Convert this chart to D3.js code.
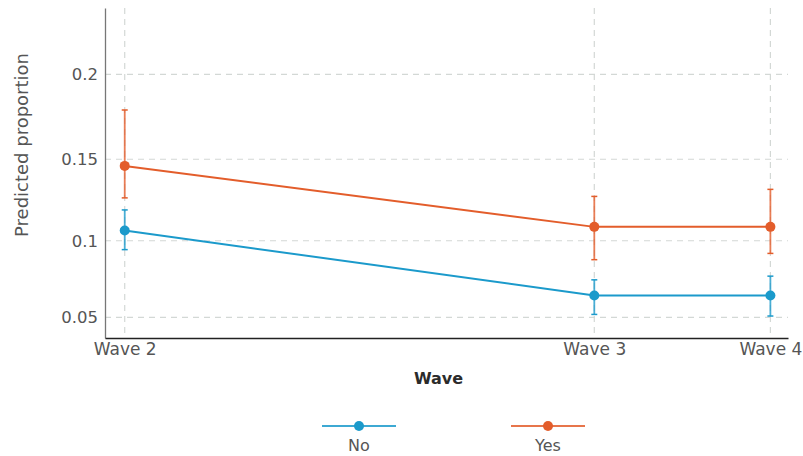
<!DOCTYPE html>
<html>
<head>
<meta charset="utf-8">
<script src="https://cdn.jsdelivr.net/npm/d3@7"></script>
<style>
  html, body { margin: 0; padding: 0; background: #ffffff; }
  svg { display: block; font-family: "DejaVu Sans", "Noto Sans", sans-serif; }
</style>
</head>
<body>
<svg id="chart" width="803" height="456"></svg>
<script>
// Survey waves and their time position (months from Wave 2)
const waves = ["Wave 2", "Wave 3", "Wave 4"];
const waveTime = [0, 8, 11];

// Group labels
const groups = ["No", "Yes"];

// Predicted proportions with confidence limits, per group
const noEst   = [0.1064, 0.0647, 0.0647];
const noLow   = [0.0944, 0.0520, 0.0509];
const noHigh  = [0.1192, 0.0750, 0.0774];
const yesEst  = [0.1460, 0.1087, 0.1087];
const yesLow  = [0.1266, 0.0880, 0.0920];
const yesHigh = [0.1792, 0.1275, 0.1318];

// Y axis ticks
const yTicks = [0.05, 0.1, 0.15, 0.2];
const yTickLabels = ["0.05", "0.1", "0.15", "0.2"];

const colors = { No: "#1b9acb", Yes: "#e35d2b" };
const fontFamily = "'DejaVu Sans', 'Noto Sans', sans-serif";
const textColor = "#555555";

const series = [
  { name: "No",  est: noEst,  low: noLow,  high: noHigh },
  { name: "Yes", est: yesEst, low: yesLow, high: yesHigh }
];

const svg = d3.select("#chart");
const plotLeft = 105, plotRight = 788, plotTop = 8, plotBottom = 338;

const x = d3.scaleLinear().domain([-0.336, 11.3]).range([plotLeft, plotRight]);
const y = d3.scalePow().exponent(1.12).domain([0.0356, 0.238]).range([plotBottom, plotTop]);

// Grid lines
const grid = svg.append("g");
grid.selectAll("line.gy").data(yTicks).join("line")
  .attr("x1", plotLeft).attr("x2", plotRight)
  .attr("y1", d => y(d)).attr("y2", d => y(d))
  .attr("stroke", "#d3d8d5").attr("stroke-width", 1.2)
  .attr("stroke-dasharray", "6,5");
grid.selectAll("line.gx").data(waveTime).join("line")
  .attr("x1", d => x(d)).attr("x2", d => x(d))
  .attr("y1", plotTop).attr("y2", plotBottom)
  .attr("stroke", "#d3d8d5").attr("stroke-width", 1.2)
  .attr("stroke-dasharray", "6,5");

// Axes
const yAxis = d3.axisLeft(y).tickValues(yTicks)
  .tickFormat((d, i) => yTickLabels[i]).tickSize(0).tickPadding(7);
const yg = svg.append("g").attr("transform", `translate(${plotLeft},0)`).call(yAxis);
yg.select(".domain").attr("stroke", "#777").attr("stroke-width", 1.3);
yg.selectAll("text").attr("font-size", 16.5).attr("fill", textColor)
  .attr("font-family", fontFamily);

const xAxis = d3.axisBottom(x).tickValues(waveTime)
  .tickFormat((d, i) => waves[i]).tickSize(0).tickPadding(5);
const xg = svg.append("g").attr("transform", `translate(0,${plotBottom})`).call(xAxis);
xg.select(".domain").attr("stroke", "#222").attr("stroke-width", 1.3);
xg.selectAll("text").attr("font-size", 17).attr("fill", textColor)
  .attr("font-family", fontFamily);

// Axis titles
svg.append("text")
  .attr("x", 438.5).attr("y", 384)
  .attr("text-anchor", "middle").attr("font-size", 16).attr("font-weight", "bold")
  .attr("fill", "#2b2b2b").text("Wave");
svg.append("text")
  .attr("transform", `translate(28,145) rotate(-90)`)
  .attr("text-anchor", "middle").attr("font-size", 18)
  .attr("fill", textColor).text("Predicted proportion");

// Series: lines, error bars, points
const line = d3.line().x((d, i) => x(waveTime[i])).y(d => y(d));
series.forEach(s => {
  const g = svg.append("g");
  const c = colors[s.name];
  g.append("path").datum(s.est).attr("d", line)
    .attr("fill", "none").attr("stroke", c).attr("stroke-width", 2);
  const idx = d3.range(waveTime.length);
  g.selectAll("line.err").data(idx).join("line")
    .attr("x1", i => x(waveTime[i])).attr("x2", i => x(waveTime[i]))
    .attr("y1", i => y(s.low[i])).attr("y2", i => y(s.high[i]))
    .attr("stroke", c).attr("stroke-opacity", 0.8).attr("stroke-width", 1.8);
  ["low", "high"].forEach(k => {
    g.selectAll("line.cap" + k).data(idx).join("line")
      .attr("x1", i => x(waveTime[i]) - 3).attr("x2", i => x(waveTime[i]) + 3)
      .attr("y1", i => y(s[k][i])).attr("y2", i => y(s[k][i]))
      .attr("stroke", c).attr("stroke-width", 1.5);
  });
  g.selectAll("circle").data(s.est).join("circle")
    .attr("cx", (d, i) => x(waveTime[i])).attr("cy", d => y(d))
    .attr("r", 5).attr("fill", c);
});

// Legend
const legendX = [359, 548];
const legend = svg.append("g");
groups.forEach((gname, i) => {
  const cx = legendX[i];
  legend.append("line").attr("x1", cx - 37).attr("x2", cx + 37)
    .attr("y1", 426).attr("y2", 426)
    .attr("stroke", colors[gname]).attr("stroke-opacity", 0.85).attr("stroke-width", 2);
  legend.append("circle").attr("cx", cx).attr("cy", 426).attr("r", 5)
    .attr("fill", colors[gname]);
  legend.append("text").attr("x", cx).attr("y", 451)
    .attr("text-anchor", "middle").attr("font-size", 16)
    .attr("fill", textColor).text(gname);
});
</script>
</body>
</html>
